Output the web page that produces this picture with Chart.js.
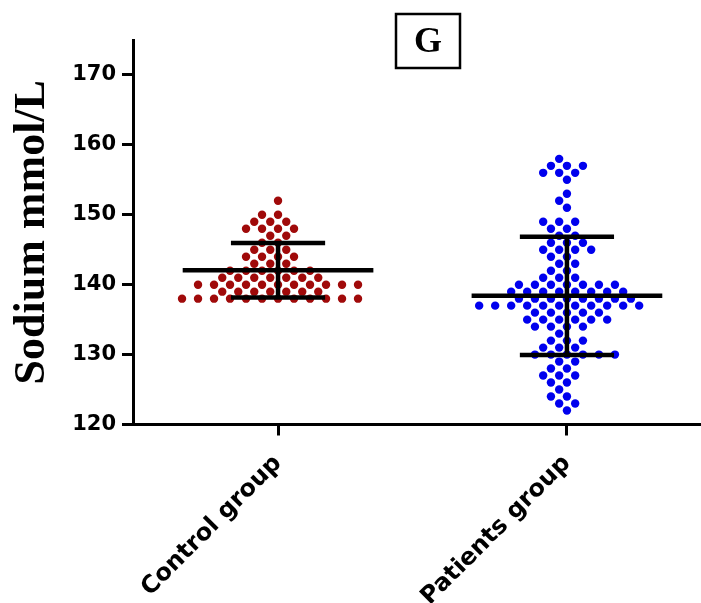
<!DOCTYPE html>
<html>
<head>
<meta charset="utf-8">
<title>Sodium mmol/L</title>
<script src="https://cdn.jsdelivr.net/npm/chart.js@4.4.1/dist/chart.umd.min.js"></script>
<style>
  html, body { margin: 0; padding: 0; background: #fff; }
  #wrap { width: 701px; height: 603px; }
</style>
</head>
<body>
<div id="wrap"><canvas id="sodiumChart" width="701" height="603"></canvas></div>
<script>
"use strict";

// sodium level of every dot row (mmol/L) and how many subjects fall on it
var levels = [122, 123, 124, 125, 126, 127, 128, 129, 130, 131, 132, 133,
              134, 135, 136, 137, 138, 139, 140, 141, 142, 143, 144, 145,
              146, 147, 148, 149, 150, 151, 152, 153, 154, 155, 156, 157, 158];
var controlCounts = [0, 0, 0, 0, 0, 0, 0, 0, 0, 0, 0, 0,
                     0, 0, 0, 0, 12, 7, 11, 7, 6, 3, 4, 3,
                     2, 2, 4, 3, 2, 0, 1, 0, 0, 0, 0, 0, 0];
var patientCounts = [1, 2, 2, 1, 2, 3, 2, 2, 6, 3, 3, 1,
                     4, 6, 5, 11, 8, 8, 7, 3, 2, 2, 2, 4,
                     3, 2, 2, 3, 0, 1, 1, 1, 0, 1, 3, 3, 1];

var groups = ["Control group", "Patients group"];
var groupMean = [142.05, 138.4];
var groupSD = [3.9, 8.45];
var groupColors = ["#a00a0a", "#0000ee"];
var yTicks = [120, 130, 140, 150, 160, 170];
var panelLetter = "G";

// swarm spacing in pixels (horizontal / vertical reach of a dot)
var DOT_DX = 16;
var DOT_DY = 8;

function expand(counts, g) {
    var out = [];
    counts.forEach(function (n, i) {
        for (var j = 0; j < n; j++) {
            out.push({ x: g, y: levels[i] });
        }
    });
    return out;
}

// push the dots of each group sideways so they don't sit on each other
function spreadDots(chart) {
    var xs = chart.scales.x, ys = chart.scales.y;
    chart.data.datasets.forEach(function (ds, g) {
        var cx = xs.getPixelForValue(g);
        var placed = [];
        ds.data.forEach(function (pt) {
            var py = ys.getPixelForValue(pt.y);
            var blocked = [];
            placed.forEach(function (p) {
                var dy = Math.abs(p.py - py);
                if (dy < DOT_DY) {
                    var w = DOT_DX * Math.sqrt(1 - (dy / DOT_DY) * (dy / DOT_DY));
                    blocked.push([p.dx - w, p.dx + w]);
                }
            });
            var cands = [0];
            blocked.forEach(function (b) { cands.push(b[0], b[1]); });
            cands.sort(function (a, b) { return Math.abs(a) - Math.abs(b) || a - b; });
            var dx = cands.find(function (c) {
                return blocked.every(function (b) { return c <= b[0] + 1e-6 || c >= b[1] - 1e-6; });
            });
            placed.push({ dx: dx, py: py });
            pt.x = xs.getValueForPixel(cx + dx);
        });
    });
    chart.update("none");
}

// mean line with SD whiskers on top of each group
var meanSdBars = {
    id: "meanSdBars",
    afterDatasetsDraw: function (chart) {
        var ctx = chart.ctx, xs = chart.scales.x, ys = chart.scales.y;
        ctx.save();
        ctx.strokeStyle = "#000";
        ctx.lineWidth = 4.5;
        groups.forEach(function (name, g) {
            var cx = xs.getPixelForValue(g);
            var meanW = xs.getPixelForValue(g + 0.33) - cx;
            var capW = xs.getPixelForValue(g + 0.163) - cx;
            var yMean = ys.getPixelForValue(groupMean[g]);
            var yTop = ys.getPixelForValue(groupMean[g] + groupSD[g]);
            var yBot = ys.getPixelForValue(groupMean[g] - groupSD[g]);
            ctx.beginPath();
            ctx.moveTo(cx - meanW, yMean); ctx.lineTo(cx + meanW, yMean);
            ctx.moveTo(cx - capW, yTop); ctx.lineTo(cx + capW, yTop);
            ctx.moveTo(cx - capW, yBot); ctx.lineTo(cx + capW, yBot);
            ctx.moveTo(cx, yTop); ctx.lineTo(cx, yBot);
            ctx.stroke();
        });
        ctx.restore();
    }
};

// boxed panel letter
var panelTag = {
    id: "panelTag",
    afterDraw: function (chart) {
        var ctx = chart.ctx;
        ctx.save();
        ctx.strokeStyle = "#000";
        ctx.lineWidth = 2.5;
        ctx.strokeRect(396, 14, 64, 54);
        ctx.fillStyle = "#000";
        ctx.font = "bold 36px 'Liberation Serif', 'Times New Roman', serif";
        ctx.textAlign = "center";
        ctx.textBaseline = "middle";
        ctx.fillText(panelLetter, 428, 43);
        ctx.restore();
    }
};

var SODIUM = document.getElementById("sodiumChart");
var sodiumChart = new Chart(SODIUM, {
    type: "scatter",
    data: {
        datasets: groups.map(function (name, g) {
            return {
                label: name,
                data: expand(g === 0 ? controlCounts : patientCounts, g),
                backgroundColor: groupColors[g],
                borderWidth: 0,
                pointRadius: 4.2,
                pointHoverRadius: 4.2
            };
        })
    },
    options: {
        responsive: false,
        animation: false,
        layout: { autoPadding: false, padding: { top: 40, right: 0, bottom: 0, left: 0 } },
        plugins: {
            legend: { display: false },
            tooltip: { enabled: false }
        },
        scales: {
            x: {
                type: "linear",
                min: -0.502,
                max: 1.464,
                afterBuildTicks: function (scale) {
                    scale.ticks = groups.map(function (n, i) { return { value: i }; });
                },
                afterFit: function (scale) {
                    scale.height = 178.5;
                    scale.paddingLeft = 0;
                    scale.paddingRight = 0;
                },
                ticks: {
                    autoSkip: false,
                    minRotation: 45,
                    maxRotation: 45,
                    padding: 14,
                    color: "#000",
                    font: { family: "'DejaVu Sans', sans-serif", size: 24, weight: "bold" },
                    callback: function (v) { return groups[v]; }
                },
                grid: { drawOnChartArea: false, color: "#000", lineWidth: 3, tickLength: 11 },
                border: { color: "#000", width: 3 }
            },
            y: {
                min: 120,
                max: 175,
                afterBuildTicks: function (scale) {
                    scale.ticks = yTicks.map(function (v) { return { value: v }; });
                },
                afterFit: function (scale) { scale.width = 133; },
                ticks: {
                    padding: 6,
                    color: "#000",
                    font: { family: "'DejaVu Sans', sans-serif", size: 21, weight: "bold" }
                },
                grid: { drawOnChartArea: false, color: "#000", lineWidth: 3, tickLength: 11 },
                border: { color: "#000", width: 3 },
                title: {
                    display: true,
                    text: "Sodium mmol/L",
                    color: "#000",
                    padding: { top: 6, bottom: 0 },
                    font: { family: "'Liberation Serif', 'Times New Roman', serif", size: 44, weight: "bold" }
                }
            }
        }
    },
    plugins: [meanSdBars, panelTag]
});

spreadDots(sodiumChart);
</script>
</body>
</html>
